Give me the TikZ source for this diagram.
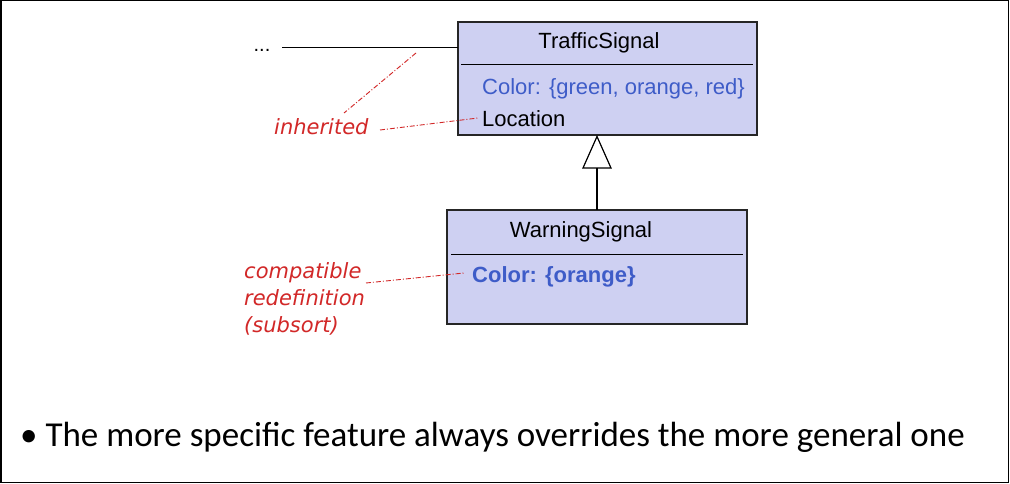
\documentclass[tikz,border=0pt]{standalone}
\usepackage{fontspec}
\setmainfont{Liberation Sans}
\newfontfamily\calib{Carlito}
\newfontfamily\notefont{DejaVu Sans}
\usetikzlibrary{arrows.meta}
\definecolor{boxfill}{RGB}{206,208,242}
\definecolor{attrblue}{RGB}{62,92,200}
\definecolor{notered}{RGB}{210,40,40}
\tikzset{
  classbox/.style={draw=black!85, line width=1.2pt, fill=boxfill},
  divider/.style={draw=black, line width=0.9pt},
  classname/.style={font=\fontsize{22}{26}\selectfont, text=black, inner sep=0pt},
  attr/.style={font=\fontsize{22}{26}\selectfont, anchor=west, inner sep=0pt},
  notetext/.style={font=\notefont\itshape\fontsize{21}{27}\selectfont, text=notered, inner sep=0pt, align=left},
  noteline/.style={draw=notered, line width=0.9pt, dash pattern=on 5pt off 2pt on 1pt off 2pt},
  assoc/.style={draw=black, line width=1pt},
  gen/.style={draw=black, line width=1.2pt}
}
\begin{document}
\begin{tikzpicture}[x=1pt,y=-1pt]
\useasboundingbox (0,0) rectangle (1010,484);
\fill[white] (0,0) rectangle (1010,484);
\draw[line width=1.5pt] (0.75,0.75) rectangle (1008.5,482.5);

% TrafficSignal class
\path[classbox] (458,22) rectangle (757,135);
\node[coordinate] (tsB) at (597,135) {};
\node[coordinate] (tsL) at (458,48) {};
\draw[divider] (461,64) -- (753,64);
\node[classname] (tsname) at (599,43) {TrafficSignal};
\node[attr, text=attrblue] (tscolor) at (482,89) {Color: \{green, orange, red\}};
\node[attr, text=black] (tsloc) at (482,119) {Location};

% WarningSignal class
\path[classbox] (447,210) rectangle (747,324);
\node[coordinate] (wsT) at (597,210) {};
\draw[divider] (451,254) -- (743,254);
\node[classname] (wsname) at (581,232) {WarningSignal};
\node[attr, text=attrblue, font=\bfseries\fontsize{22}{25}\selectfont] (wscolor) at (472,277) {Color: \{orange\}};

% generalization
\node[coordinate] (tip) at (597,136.5) {};
\node[coordinate] (tribase) at (597,168) {};
\draw[gen, fill=white] (tip) -- (583,168) -- (611,168) -- cycle;
\draw[gen] (tribase) -- (wsT);

% association to "..."
\node[inner sep=0pt, font=\fontsize{20}{22}\selectfont] (dots) at (262,50) {...};
\node[coordinate] (assocstart) at (282,48) {};
\draw[assoc] (assocstart) -- (tsL);

% notes
\node[notetext, anchor=west] (inh) at (274,127) {inherited};
\node[notetext, anchor=north west] (compat) at (244,262) {compatible\\redefinition\\(subsort)};
\node[coordinate] (n1a) at (416,53) {};
\node[coordinate] (n1b) at (344,113) {};
\node[coordinate] (n2a) at (380,130) {};
\node[coordinate] (n2b) at (478,118) {};
\node[coordinate] (n3a) at (366,283) {};
\node[coordinate] (n3b) at (464,273) {};
\draw[noteline] (n1a) -- (n1b);
\draw[noteline] (n2a) -- (n2b);
\draw[noteline] (n3a) -- (n3b);

% bullet text
\node[anchor=west, inner sep=0pt, font=\calib\fontsize{35}{40}\selectfont] (bullet) at (20,437) {\textbullet\ The more specific feature always overrides the more general one};
\end{tikzpicture}
\end{document}
